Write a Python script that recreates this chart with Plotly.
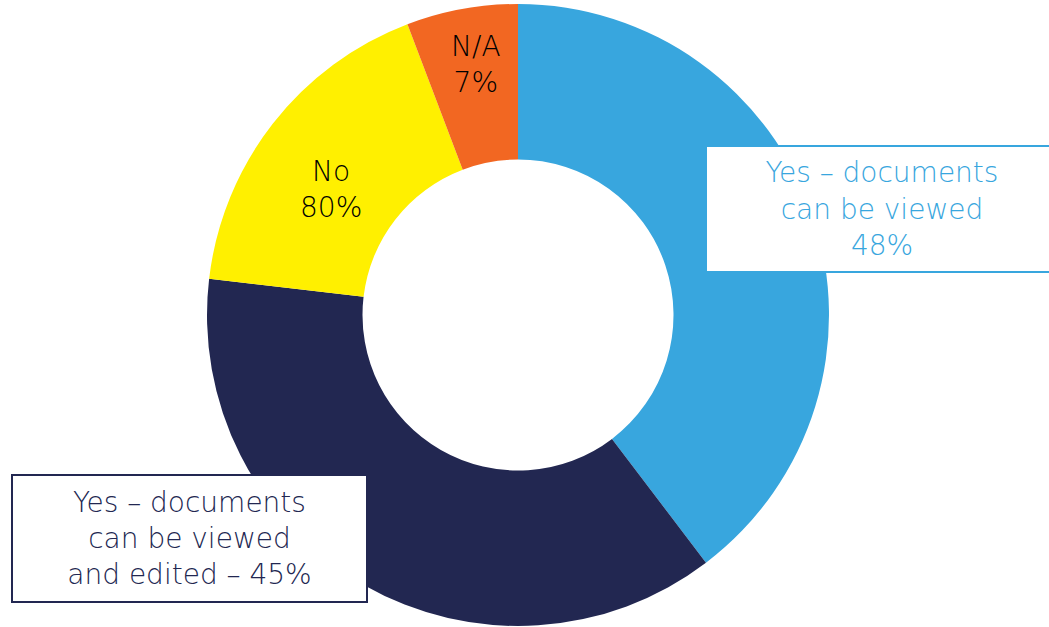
import plotly.graph_objects as go

# Survey responses: can documents be accessed remotely?
categories = ["Yes – documents can be viewed",
              "Yes – documents can be viewed and edited",
              "No",
              "N/A"]
counts = [48, 45, 21, 7]
colors = ["#38A6DE", "#222751", "#FFF000", "#F26722"]

W, H = 1049, 627
FONT = "DejaVu Sans"


def px_x(x):
    return x / W


def px_y(y):
    return 1 - y / H


fig = go.Figure(go.Pie(
    labels=categories,
    values=counts,
    hole=0.5,
    sort=False,
    direction="clockwise",
    rotation=0,
    marker=dict(colors=colors, line=dict(width=0)),
    textinfo="none",
    hoverinfo="label+value",
    domain=dict(x=[px_x(207), px_x(829)], y=[px_y(626), px_y(4)]),
))

annotations = [
    dict(text="Yes – documents<br>can be viewed<br>48%", x=px_x(882), y=px_y(209),
         font=dict(color="#38A6DE"), bordercolor="#38A6DE", bgcolor="white",
         borderwidth=2, width=350, height=124),
    dict(text="Yes – documents<br>can be viewed<br>and edited – 45%", x=px_x(189.5), y=px_y(538.5),
         font=dict(color="#222751"), bordercolor="#222751", bgcolor="white",
         borderwidth=2, width=353, height=125),
    dict(text="No<br>80%", x=px_x(331), y=px_y(189), font=dict(color="black")),
    dict(text="N/A<br>7%", x=px_x(476), y=px_y(64), font=dict(color="black")),
]
for a in annotations:
    a.update(xref="paper", yref="paper", showarrow=False, align="center",
             xanchor="center", yanchor="middle", borderpad=0)
    a["font"].update(family=FONT, size=28, weight=200)

fig.update_layout(
    width=W, height=H,
    margin=dict(l=0, r=0, t=0, b=0),
    paper_bgcolor="white",
    plot_bgcolor="white",
    showlegend=False,
    annotations=annotations,
)

fig.write_html("out.html")
